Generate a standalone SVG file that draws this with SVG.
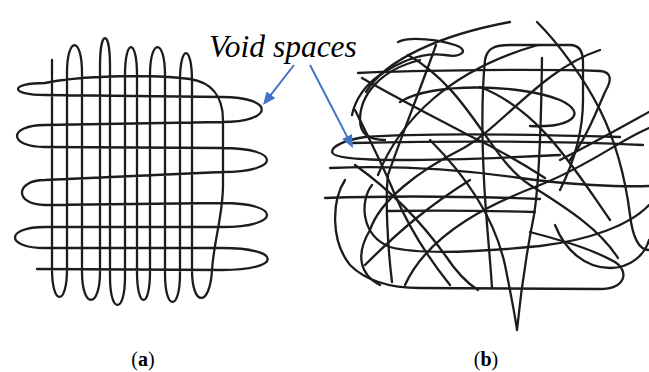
<svg xmlns="http://www.w3.org/2000/svg" width="649" height="372" viewBox="0 0 649 372">
<defs>
<style>
.fiber{fill:none;stroke:#1c1c1c;stroke-width:2.3;stroke-linecap:round;stroke-linejoin:round}
.arrow{fill:none;stroke:#4472C4;stroke-width:2}
.void{font-family:"Liberation Serif","Times New Roman",serif;font-style:italic;font-size:31.5px;fill:#000}
.cap{font-family:"Liberation Serif","Times New Roman",serif;font-size:20px;fill:#000}
</style>
<marker id="ah" markerWidth="13" markerHeight="11" refX="5" refY="5.5" orient="auto" markerUnits="userSpaceOnUse">
<path d="M0,0 L13,5.5 L0,11 z" fill="#4472C4"/>
</marker>
</defs>
<rect width="649" height="372" fill="#fff"/>

<g id="scaffold-a">
<path class="fiber" d="M52,60 V269 C52,306.3 67,306.3 67,269 V73 C67,35.7 82,35.7 82,73 V272 C82,309.3 100,309.3 100,272 V66 C100,28.7 110,28.7 110,66 V277 C110,314.3 125,314.3 125,277 V75 C125,37.7 137,37.7 137,75 V272 C137,309.3 150,309.3 150,272 V75 C150,37.7 165,37.7 165,75 V274 C165,311.3 180,311.3 180,274 V81 C180,43.7 192,43.7 192,81 V270 C192,307.3 210,307.3 212,270 C214,240 223,215 223,185 V120 C223,95 210,82 190,79 C160,75 120,76 100,77 C75,78 55,81 45,83 C9,83 9,95 45,95 L222,97 C275,97 275,122 222,122 L45,125 C7.7,125 7.7,147 45,147 L222,148 C282,148 282,172 222,172 L45,180 C14.3,180 14.3,205 45,205 L222,203 C282,203 282,227 222,227 L45,227 C5,227 5,248 45,248 L222,248 C283,248 283,270 222,270 L37,269"/>
</g>

<g id="scaffold-b">
<path class="fiber" d="M330,168 C380,166 450,168 520,178 C570,185 620,187 649,186"/>
<path class="fiber" d="M325,198 C380,196 460,196 540,199"/>
<path class="fiber" d="M388,211 C440,210 500,211 535,212"/>
<path class="fiber" d="M620,137 C520,134 420,133 365,137 C345,140 332,146 332,152 C333,158 360,160 400,160 C460,160 520,157 560,155"/>
<path class="fiber" d="M353,143 C450,141 560,141 643,145"/>
<path class="fiber" d="M358,73 C420,70 540,69 600,71 C612,72 612,80 605,92 C595,115 585,140 570,160"/>
<path class="fiber" d="M366,92 C385,60 440,35 510,22"/>
<path class="fiber" d="M537,22 C560,45 585,80 600,110 C615,140 625,175 630,215 C633,240 640,250 649,250"/>
<path class="fiber" d="M560,190 C575,160 583,130 583,100 L583,62 C583,52 580,45 570,45 L510,45 C495,45 487,48 485,60 C482,90 482,140 484,180 C486,220 490,255 492,288"/>
<path class="fiber" d="M398,42 C410,36 440,40 455,45 C470,50 462,58 445,55 C425,52 405,58 380,75 C365,85 355,100 352,115"/>
<path class="fiber" d="M436,45 C420,90 400,140 388,175 C385,200 388,250 392,282"/>
<path class="fiber" d="M430,140 C470,180 495,220 505,265 C510,290 515,315 517,330 C520,300 527,250 534,215 C538,190 541,140 542,58"/>
<path class="fiber" d="M345,180 C332,200 330,240 350,265 C365,280 390,288 420,288 L600,289 C625,289 630,272 615,262 C590,248 560,240 530,232"/>
<path class="fiber" d="M372,185 C360,200 360,235 390,247 C420,255 480,252 540,246 C590,240 630,225 649,205"/>
<path class="fiber" d="M555,225 C565,250 585,268 610,268 C630,268 645,255 649,240"/>
<path class="fiber" d="M408,55 C470,90 490,160 530,185 C570,210 600,230 618,258"/>
<path class="fiber" d="M362,78 C400,100 440,120 468,135 C500,150 525,165 545,178"/>
<path class="fiber" d="M480,87 C540,110 575,170 610,220"/>
<path class="fiber" d="M600,50 C540,70 500,130 460,150 C420,170 380,200 370,230 C355,255 360,275 380,285"/>
<path class="fiber" d="M378,175 C400,120 450,70 538,45"/>
<path class="fiber" d="M405,285 C430,230 500,200 540,185 C590,165 620,140 649,128"/>
<path class="fiber" d="M365,265 C400,230 430,205 470,180"/>
<path class="fiber" d="M355,110 C370,140 385,170 395,195 C410,230 430,260 450,285"/>
<path class="fiber" d="M560,160 C590,145 620,128 649,112"/>
<path class="fiber" d="M420,60 C380,70 360,95 360,120 C360,135 370,140 385,140"/>
<path class="fiber" d="M355,165 C390,190 420,220 445,255 C455,270 465,282 478,290"/>
<path class="fiber" d="M400,102 C430,82 520,84 560,100 C590,114 570,128 530,126"/>
</g>

<g id="label-void">
<text class="void" x="209" y="57">Void spaces</text>
</g>

<g id="connectors">
<line class="arrow" x1="294" y1="65" x2="267.9" y2="98.7" marker-end="url(#ah)"/>
<line class="arrow" x1="310" y1="65" x2="349.3" y2="140.9" marker-end="url(#ah)"/>
</g>

<g id="captions">
<text class="cap" x="143" y="366" text-anchor="middle">(<tspan font-weight="bold">a</tspan>)</text>
<text class="cap" x="486" y="366" text-anchor="middle">(<tspan font-weight="bold">b</tspan>)</text>
</g>
</svg>
